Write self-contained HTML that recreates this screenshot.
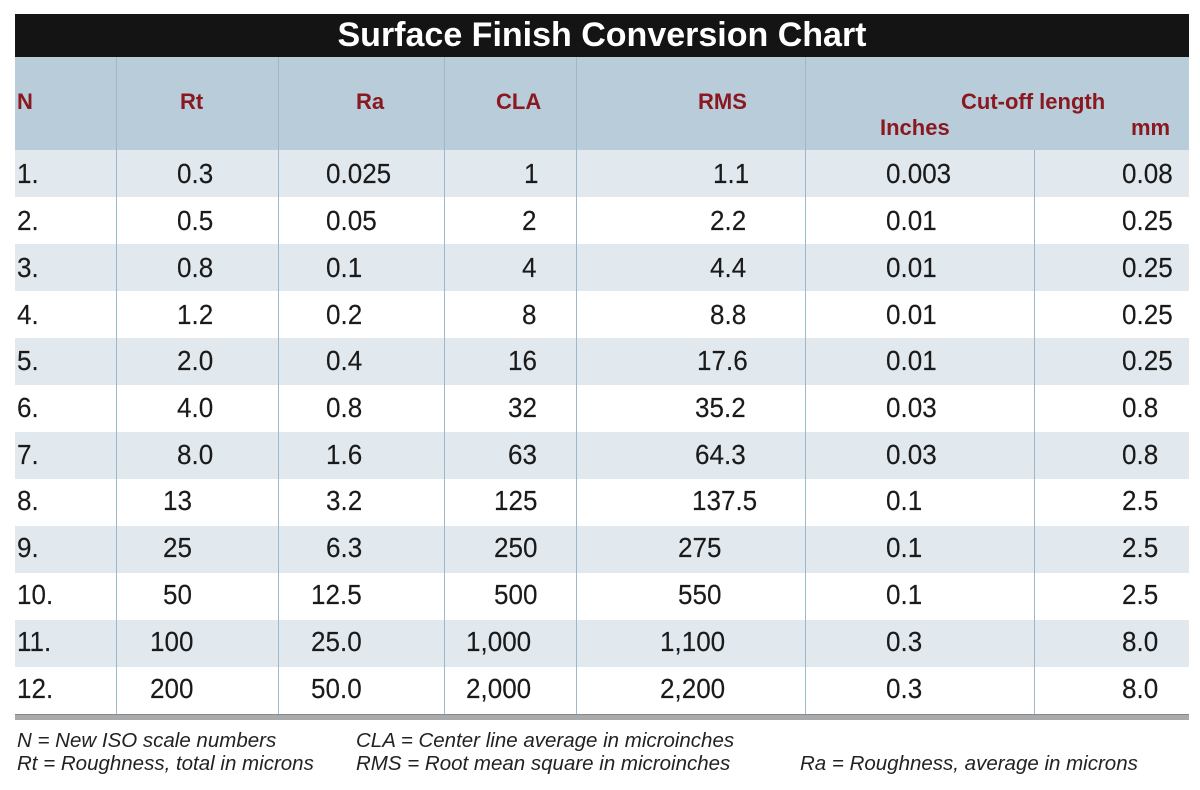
<!DOCTYPE html>
<html><head><meta charset="utf-8"><style>
body{margin:0;width:1200px;height:790px;background:#fff;position:relative;overflow:hidden;font-family:"Liberation Sans",Arial,sans-serif}
.a{position:absolute}
.t{position:absolute;font-size:28px;color:#1a1a1a;line-height:30px;transform:scaleX(.93);transform-origin:0 50%;white-space:nowrap;-webkit-text-stroke:0.15px #1a1a1a}
.h{position:absolute;font-size:22px;font-weight:bold;color:#8a1820;line-height:22px;transform:scaleX(1);transform-origin:0 50%;white-space:nowrap}
.f{position:absolute;font-size:20.5px;font-style:italic;color:#222;transform:scaleX(1);transform-origin:0 50%;white-space:nowrap}
.v{position:absolute;width:1px;background:#9db8ca}
</style></head><body>
<div class="a" style="left:15px;top:14px;width:1174px;height:43px;background:#141414"></div>
<div class="a" style="left:15px;top:14px;width:1174px;height:43px;color:#fff;font-weight:bold;font-size:34px;line-height:43px;text-align:center">Surface Finish Conversion Chart</div>
<div class="a" style="left:15px;top:57px;width:1174px;height:93px;background:#b8cdd9"></div>
<div class="a" style="left:15px;top:150px;width:1174px;height:47px;background:#e1e9ef"></div>
<div class="a" style="left:15px;top:244px;width:1174px;height:47px;background:#e1e9ef"></div>
<div class="a" style="left:15px;top:338px;width:1174px;height:47px;background:#e1e9ef"></div>
<div class="a" style="left:15px;top:432px;width:1174px;height:47px;background:#e1e9ef"></div>
<div class="a" style="left:15px;top:526px;width:1174px;height:47px;background:#e1e9ef"></div>
<div class="a" style="left:15px;top:620px;width:1174px;height:47px;background:#e1e9ef"></div>
<div class="v" style="left:116px;top:57px;height:657px"></div>
<div class="v" style="left:278px;top:57px;height:657px"></div>
<div class="v" style="left:444px;top:57px;height:657px"></div>
<div class="v" style="left:576px;top:57px;height:657px"></div>
<div class="v" style="left:805px;top:57px;height:657px"></div>
<div class="v" style="left:1034px;top:150px;height:564px"></div>
<div class="a" style="left:15px;top:714px;width:1174px;height:5px;background:#aaa;border-top:1px solid #888"></div>

<div class="h" style="left:17px;top:91px">N</div>
<div class="h" style="left:180px;top:91px">Rt</div>
<div class="h" style="left:356px;top:91px">Ra</div>
<div class="h" style="left:496px;top:91px">CLA</div>
<div class="h" style="left:698px;top:91px">RMS</div>
<div class="h" style="left:961px;top:91px">Cut-off length</div>
<div class="h" style="left:880px;top:117px">Inches</div>
<div class="h" style="left:1131px;top:117px">mm</div>

<div class="t" style="left:17px;top:159px">1.</div><div class="t" style="left:177px;top:159px">0.3</div><div class="t" style="left:326px;top:159px">0.025</div><div class="t" style="left:524px;top:159px">1</div><div class="t" style="left:713px;top:159px">1.1</div><div class="t" style="left:886px;top:159px">0.003</div><div class="t" style="left:1122px;top:159px">0.08</div>
<div class="t" style="left:17px;top:206px">2.</div><div class="t" style="left:177px;top:206px">0.5</div><div class="t" style="left:326px;top:206px">0.05</div><div class="t" style="left:522px;top:206px">2</div><div class="t" style="left:710px;top:206px">2.2</div><div class="t" style="left:886px;top:206px">0.01</div><div class="t" style="left:1122px;top:206px">0.25</div>
<div class="t" style="left:17px;top:253px">3.</div><div class="t" style="left:177px;top:253px">0.8</div><div class="t" style="left:326px;top:253px">0.1</div><div class="t" style="left:522px;top:253px">4</div><div class="t" style="left:710px;top:253px">4.4</div><div class="t" style="left:886px;top:253px">0.01</div><div class="t" style="left:1122px;top:253px">0.25</div>
<div class="t" style="left:17px;top:300px">4.</div><div class="t" style="left:177px;top:300px">1.2</div><div class="t" style="left:326px;top:300px">0.2</div><div class="t" style="left:522px;top:300px">8</div><div class="t" style="left:710px;top:300px">8.8</div><div class="t" style="left:886px;top:300px">0.01</div><div class="t" style="left:1122px;top:300px">0.25</div>
<div class="t" style="left:17px;top:346px">5.</div><div class="t" style="left:177px;top:346px">2.0</div><div class="t" style="left:326px;top:346px">0.4</div><div class="t" style="left:508px;top:346px">16</div><div class="t" style="left:697px;top:346px">17.6</div><div class="t" style="left:886px;top:346px">0.01</div><div class="t" style="left:1122px;top:346px">0.25</div>
<div class="t" style="left:17px;top:393px">6.</div><div class="t" style="left:177px;top:393px">4.0</div><div class="t" style="left:326px;top:393px">0.8</div><div class="t" style="left:508px;top:393px">32</div><div class="t" style="left:695px;top:393px">35.2</div><div class="t" style="left:886px;top:393px">0.03</div><div class="t" style="left:1122px;top:393px">0.8</div>
<div class="t" style="left:17px;top:440px">7.</div><div class="t" style="left:177px;top:440px">8.0</div><div class="t" style="left:326px;top:440px">1.6</div><div class="t" style="left:508px;top:440px">63</div><div class="t" style="left:695px;top:440px">64.3</div><div class="t" style="left:886px;top:440px">0.03</div><div class="t" style="left:1122px;top:440px">0.8</div>
<div class="t" style="left:17px;top:486px">8.</div><div class="t" style="left:163px;top:486px">13</div><div class="t" style="left:326px;top:486px">3.2</div><div class="t" style="left:494px;top:486px">125</div><div class="t" style="left:692px;top:486px">137.5</div><div class="t" style="left:886px;top:486px">0.1</div><div class="t" style="left:1122px;top:486px">2.5</div>
<div class="t" style="left:17px;top:533px">9.</div><div class="t" style="left:163px;top:533px">25</div><div class="t" style="left:326px;top:533px">6.3</div><div class="t" style="left:494px;top:533px">250</div><div class="t" style="left:678px;top:533px">275</div><div class="t" style="left:886px;top:533px">0.1</div><div class="t" style="left:1122px;top:533px">2.5</div>
<div class="t" style="left:17px;top:580px">10.</div><div class="t" style="left:163px;top:580px">50</div><div class="t" style="left:311px;top:580px">12.5</div><div class="t" style="left:494px;top:580px">500</div><div class="t" style="left:678px;top:580px">550</div><div class="t" style="left:886px;top:580px">0.1</div><div class="t" style="left:1122px;top:580px">2.5</div>
<div class="t" style="left:17px;top:627px">11.</div><div class="t" style="left:150px;top:627px">100</div><div class="t" style="left:311px;top:627px">25.0</div><div class="t" style="left:466px;top:627px">1,000</div><div class="t" style="left:660px;top:627px">1,100</div><div class="t" style="left:886px;top:627px">0.3</div><div class="t" style="left:1122px;top:627px">8.0</div>
<div class="t" style="left:17px;top:674px">12.</div><div class="t" style="left:150px;top:674px">200</div><div class="t" style="left:311px;top:674px">50.0</div><div class="t" style="left:466px;top:674px">2,000</div><div class="t" style="left:660px;top:674px">2,200</div><div class="t" style="left:886px;top:674px">0.3</div><div class="t" style="left:1122px;top:674px">8.0</div>

<div class="f" style="left:17px;top:729px">N = New ISO scale numbers</div>
<div class="f" style="left:356px;top:729px">CLA = Center line average in microinches</div>
<div class="f" style="left:17px;top:752px">Rt = Roughness, total in microns</div>
<div class="f" style="left:356px;top:752px">RMS = Root mean square in microinches</div>
<div class="f" style="left:800px;top:752px">Ra = Roughness, average in microns</div>
</body></html>
